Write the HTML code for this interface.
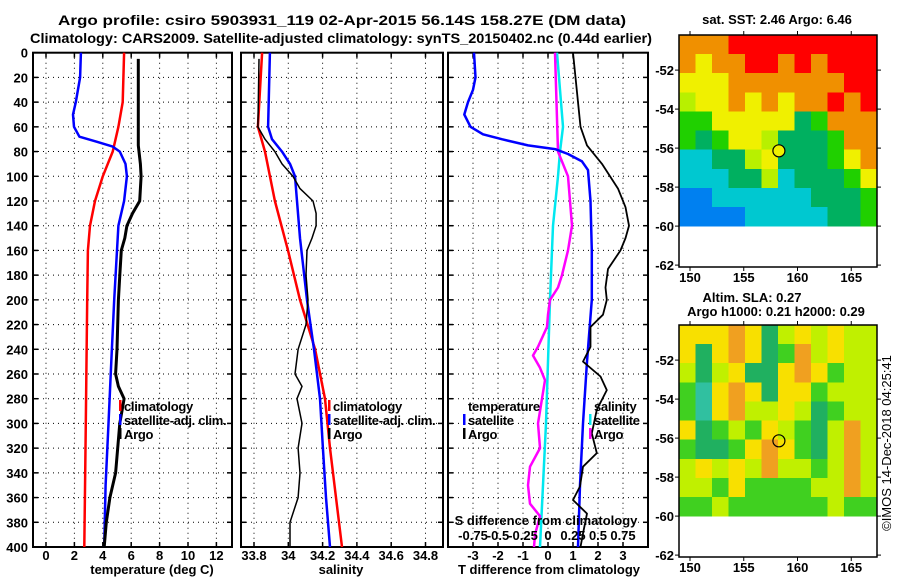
<!DOCTYPE html>
<html><head><meta charset="utf-8"><style>
body{margin:0;background:#fff}
svg{display:block;font-family:"Liberation Sans",sans-serif;font-weight:bold}
</style></head><body>
<svg id="chart" width="900" height="580" viewBox="0 0 900 580" xmlns="http://www.w3.org/2000/svg">
<text x="58" y="25" font-size="14" textLength="568" lengthAdjust="spacingAndGlyphs">Argo profile: csiro 5903931_119 02-Apr-2015 56.14S 158.27E (DM data)</text>
<text x="30" y="43" font-size="14" textLength="622" lengthAdjust="spacingAndGlyphs">Climatology: CARS2009. Satellite-adjusted climatology: synTS_20150402.nc (0.44d earlier)</text>
<g id="p1"></g>
<g id="p2"></g>
<g id="p3"></g>
<g id="m1"></g>
<g id="m2"></g>
<text x="152" y="574" font-size="13" text-anchor="middle">temperature (deg C)</text>
<text x="341" y="574" font-size="13" text-anchor="middle">salinity</text>
<text x="549" y="574" font-size="13" text-anchor="middle">T difference from climatology</text>
<text x="777" y="24" font-size="13" text-anchor="middle">sat. SST: 2.46 Argo: 6.46</text>
<text x="752" y="302" font-size="13" text-anchor="middle">Altim. SLA: 0.27</text>
<text x="776" y="316" font-size="13" text-anchor="middle">Argo h1000: 0.21 h2000: 0.29</text>
<text transform="translate(891,443) rotate(-90)" font-size="13" font-weight="normal" text-anchor="middle">©IMOS 14-Dec-2018 04:25:41</text>
</svg>
<script>
// ---------- data ----------
const depthTicks=[0,20,40,60,80,100,120,140,160,180,200,220,240,260,280,300,320,340,360,380,400];
const tempTicks=[0,2,4,6,8,10,12];
const salTicks=[33.8,34,34.2,34.4,34.6,34.8];
const salTickLabels=["33.8","34","34.2","34.4","34.6","34.8"];
const tdiffTicks=[-3,-2,-1,0,1,2,3];
const sdiffTicks=[-0.75,-0.5,-0.25,0,0.25,0.5,0.75];
const sdiffTickLabels=["-0.75","-0.5","-0.25","0","0.25","0.5","0.75"];

const tClimDepth=[0,40,60,80,100,120,140,160,200,300,400];
const tClimVal=[5.5,5.4,5.1,4.7,4.0,3.45,3.1,2.95,2.9,2.8,2.7];
const tSatDepth=[0,20,40,50,60,68,72,76,80,90,100,120,140,160,200,250,300,350,400];
const tSatVal=[2.46,2.4,2.1,1.9,1.97,2.35,3.56,4.7,5.2,5.6,5.7,5.5,5.1,5.0,4.8,4.6,4.4,4.2,4.1];
const tArgoDepth=[5,75,90,100,120,130,140,150,160,180,200,240,260,270,280,300,320,340,360,380,400];
const tArgoVal=[6.5,6.5,6.65,6.7,6.6,6.1,5.7,5.55,5.3,5.2,5.1,5.0,4.9,5.1,5.5,5.2,5.05,4.9,4.5,4.25,4.1];

const sClimDepth=[0,60,80,120,160,200,240,280,320,360,400];
const sClimVal=[33.847,33.823,33.864,33.922,33.998,34.068,34.156,34.214,34.243,34.278,34.313];
const sSatDepth=[0,60,70,80,90,100,150,200,240,280,320,360,400];
const sSatVal=[33.893,33.882,33.905,33.963,34.01,34.039,34.068,34.109,34.15,34.185,34.202,34.22,34.243];
const sArgoDepth=[5,60,70,80,90,100,110,120,130,140,150,160,180,200,220,240,260,270,280,300,320,340,360,380,400];
const sArgoVal=[33.829,33.823,33.864,33.922,33.963,34.027,34.068,34.144,34.162,34.162,34.138,34.109,34.103,34.115,34.103,34.057,34.039,34.08,34.051,34.08,34.057,34.068,34.057,34.01,34.01];

const dTSatDepth=[0,20,30,40,50,60,66,70,75,78,82,88,95,120,160,200,250,300,350,400];
const dTSatVal=[-2.96,-2.9,-3.0,-3.2,-3.35,-3.1,-2.6,-1.85,-0.8,0.28,0.8,1.36,1.6,1.7,1.75,1.75,1.56,1.4,1.28,1.2];
const dTArgoDepth=[0,40,60,75,90,110,125,140,150,160,175,190,200,212,222,238,250,262,273,289,308,324,335,351,362,373,389,400];
const dTArgoVal=[1.0,1.2,1.3,1.56,2.16,2.8,3.1,3.24,3.1,2.9,2.4,2.3,2.35,2.2,1.7,1.7,1.4,2.1,2.35,1.95,1.75,1.95,1.4,1.28,1.0,1.56,1.4,1.3];
const dSSatDepth=[0,60,80,100,140,200,300,400];
const dSSatVal=[0.09,0.15,0.12,0.1,0.05,0.02,-0.02,-0.08];
const dSArgoDepth=[0,80,100,140,160,180,190,200,212,222,238,245,255,265,280,300,320,335,350,365,375,390,400];
const dSArgoVal=[0.07,0.1,0.2,0.24,0.2,0.14,0.1,0.02,0,-0.01,-0.1,-0.15,-0.08,-0.03,-0.06,-0.1,-0.08,-0.18,-0.2,-0.18,-0.08,-0.13,-0.14];

const mapLonTicks=[150,155,160,165];
const mapLatTicks=[-52,-54,-56,-58,-60,-62];
const sstRows=["OOORRRRRRRRR","OYOORRORORRR","YYYOOOOOOORR","LYYOYOYOOROR","GGYYYYYDGOOO","GDGYYLDDDGOO","CCDDLYDDDGYO","CCCDDLCDDDGY","BBCCCCCCDDDG","BBBBCCCCCDDG"];
const slaRows=["YYYOYDLYLYLL","YDYOYDGOLYLL","LDLYDDYOYGLL","GCYOYDYYGLLL","GCYOLLYLDGLL","YDGLGYLGDLOL","GDDGYOYGDLOL","LYLYLOLLGLOL","LLGYGGGGLLOL","GGLGGGGGGLGG"];
const profLon=158.27, profLat=-56.14;

// ---------- helpers ----------
const NS="http://www.w3.org/2000/svg";
function mk(parent,tag,attrs){const e=document.createElementNS(NS,tag);for(const k in attrs)e.setAttribute(k,attrs[k]);parent.appendChild(e);return e;}
const TOP=52.7,BOT=547;
const yD=d=>TOP+d*(BOT-TOP)/400;

function panel(g,x0,x1,xs,xticks,xlabels,showY){
  const box=mk(g,'rect',{x:x0,y:TOP,width:x1-x0,height:BOT-TOP,fill:'none',stroke:'#000','stroke-width':2});
  
  
  depthTicks.forEach((d,i)=>{
    const y=yD(d);
    if(d>0&&d<400){const l=mk(g,'line',{x1:x0,x2:x1,y1:y,y2:y,stroke:'#000','stroke-dasharray':'1 4'});
      }
    mk(g,'line',{x1:x0,x2:x0+5,y1:y,y2:y,stroke:'#000','stroke-width':1.5});
    mk(g,'line',{x1:x1-5,x2:x1,y1:y,y2:y,stroke:'#000','stroke-width':1.5});
    if(showY){const t=mk(g,'text',{x:28,y:y+5,'font-size':13,'text-anchor':'end'});t.textContent=d;
      }
  });
  xticks.forEach((v,i)=>{
    const x=xs(v);
    const l=mk(g,'line',{x1:x,x2:x,y1:TOP,y2:BOT,stroke:'#000','stroke-dasharray':'1 4'});
    
    mk(g,'line',{x1:x,x2:x,y1:BOT-5,y2:BOT,stroke:'#000','stroke-width':1.5});
    mk(g,'line',{x1:x,x2:x,y1:TOP,y2:TOP+5,stroke:'#000','stroke-width':1.5});
    const t=mk(g,'text',{x:x,y:560,'font-size':13,'text-anchor':'middle'});t.textContent=xlabels[i];
    
  });
}
function series(g,depths,vals,xs,color,w,name){
  const pts=depths.map((d,i)=>xs(vals[i]).toFixed(1)+','+yD(d).toFixed(1)).join(' ');
  const p=mk(g,'polyline',{points:pts,fill:'none',stroke:color,'stroke-width':w,'stroke-linejoin':'round'});
  
  
}
function legend(g,x,y,items,header){
  let yy=y;
  if(header){const t=mk(g,'text',{x:x,y:yy,'font-size':13,'letter-spacing':'-0.3'});t.textContent=header;
    yy+=14;}
  items.forEach(it=>{
    mk(g,'rect',{x:x-5,y:yy-11,width:2.5,height:11,fill:it[1]});
    const t=mk(g,'text',{x:x,y:yy,'font-size':13,'letter-spacing':'-0.3'});t.textContent=it[0];
    
    yy+=14;
  });
}

// panel 1
const g1=document.getElementById('p1');
const xT=v=>46+v*14.2;
panel(g1,33,232,xT,tempTicks,tempTicks.map(String),true);
series(g1,tClimDepth,tClimVal,xT,'#f00',2.5,'climatology-temperature-line');
series(g1,tSatDepth,tSatVal,xT,'#00f',2.5,'satellite-temperature-line');
series(g1,tArgoDepth,tArgoVal,xT,'#000',3,'argo-temperature-line');
legend(g1,124,411,[['climatology','#f00'],['satellite-adj. clim.','#00f'],['Argo','#000']]);

// panel 2
const g2=document.getElementById('p2');
const xS=v=>254+(v-33.8)*171.5;
panel(g2,241,443,xS,salTicks,salTickLabels,false);
series(g2,sClimDepth,sClimVal,xS,'#f00',2.5,'climatology-salinity-line');
series(g2,sSatDepth,sSatVal,xS,'#00f',2.5,'satellite-salinity-line');
series(g2,sArgoDepth,sArgoVal,xS,'#000',1.5,'argo-salinity-line');
legend(g2,333,411,[['climatology','#f00'],['satellite-adj. clim.','#00f'],['Argo','#000']]);

// panel 3
const g3=document.getElementById('p3');
const xDT=v=>548+v*25;
const xDS=v=>548+v*100;
panel(g3,448,648,xDT,tdiffTicks,tdiffTicks.map(String),false);
series(g3,dSSatDepth,dSSatVal,xDS,'#00e8f0',2.5,'satellite-salinity-diff-line');
series(g3,dSArgoDepth,dSArgoVal,xDS,'#f0f',2.5,'argo-salinity-diff-line');
series(g3,dTSatDepth,dTSatVal,xDT,'#00f',2.5,'satellite-temperature-diff-line');
series(g3,dTArgoDepth,dTArgoVal,xDT,'#000',1.8,'argo-temperature-diff-line');
legend(g3,468,411,[['satellite','#00f'],['Argo','#000']],'temperature');
legend(g3,594,411,[['satellite','#00e8f0'],['Argo','#f0f']],'salinity');
const sdt=mk(g3,'text',{x:546,y:525,'font-size':13,'text-anchor':'middle'});sdt.textContent='S difference from climatology';

sdiffTicks.forEach((v,i)=>{const t=mk(g3,'text',{x:xDS(v),y:540,'font-size':13,'text-anchor':'middle'});t.textContent=sdiffTickLabels[i];
  });

// maps
const pal={R:'#ff0000',O:'#f09000',Y:'#f0f000',L:'#b8f000',G:'#20d000',D:'#00b060',C:'#00c8d0',B:'#0080f0'};
const pal2={Y:'#f8e000',O:'#f0a020',L:'#c0f000',G:'#40d020',D:'#20b060',C:'#30c0a0'};
function drawMap(g,top,bot,latStep,rows,colors,fillCircle,labelY){
  const x0=679,x1=877;
  const lonX=l=>690+(l-150)*10.75;
  const y52=top+(latStep*1.8);
  const ly=l=>y52+(-52-l)*latStep;
  const yTop=top, y60=ly(-60);
  const nR=rows.length,nC=rows[0].length;
  const cw=(x1-x0)/nC,ch=(y60-yTop)/nR;
  rows.forEach((r,i)=>{for(let j=0;j<nC;j++){
    mk(g,'rect',{x:x0+j*cw,y:yTop+i*ch,width:cw+0.5,height:ch+0.5,fill:colors[r[j]],'shape-rendering':'crispEdges'});
  }});
  const f=mk(g,'rect',{x:x0,y:top,width:x1-x0,height:bot-top,fill:'none',stroke:'#000','stroke-width':1.5});
  
  mapLonTicks.forEach(l=>{const x=lonX(l);
    mk(g,'line',{x1:x,x2:x,y1:bot,y2:bot+4,stroke:'#000'});mk(g,'line',{x1:x,x2:x,y1:top-4,y2:top,stroke:'#000'});
    const t=mk(g,'text',{x:x,y:labelY,'font-size':13,'text-anchor':'middle'});t.textContent=l;
    });
  mapLatTicks.forEach(l=>{const y=ly(l);
    mk(g,'line',{x1:x0-4,x2:x0,y1:y,y2:y,stroke:'#000'});mk(g,'line',{x1:x1,x2:x1+4,y1:y,y2:y,stroke:'#000'});
    const t=mk(g,'text',{x:674,y:y+5,'font-size':13,'text-anchor':'end'});t.textContent=l;
    });
  const c=mk(g,'circle',{cx:lonX(profLon),cy:ly(profLat),r:6,fill:fillCircle,stroke:'#000','stroke-width':1.2});
  
}
drawMap(document.getElementById('m1'),35,267,19.5,sstRows,pal,'#f0f000',282);
drawMap(document.getElementById('m2'),325,557,19.5,slaRows,pal2,'none',572);
</script>
</body></html>
